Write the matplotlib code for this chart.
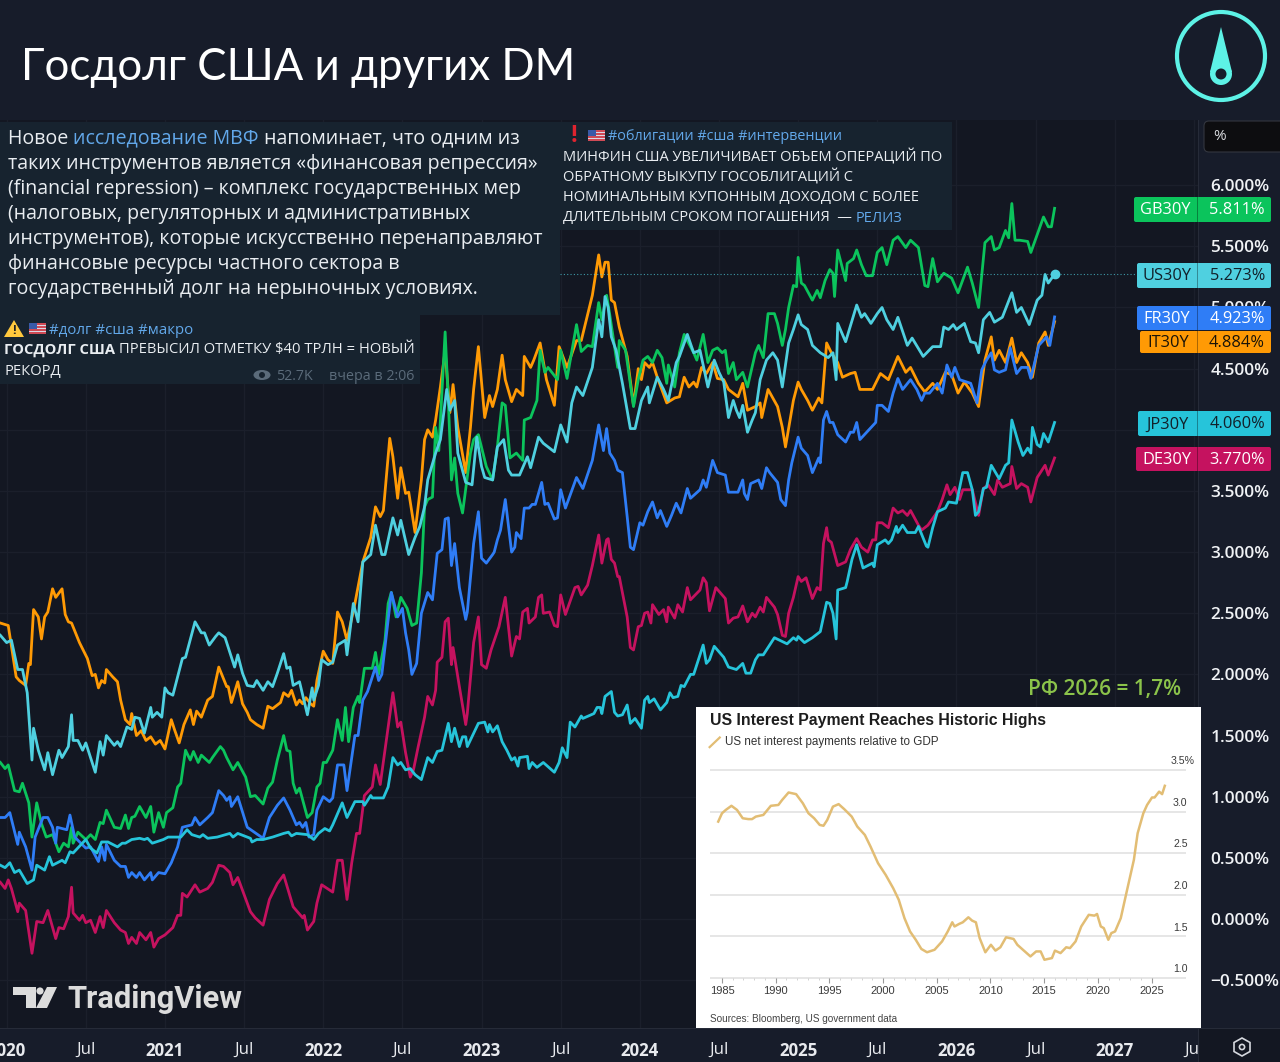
# -*- coding: utf-8 -*-
# 30Y government bond yields with a Telegram text overlay and a Bloomberg inset
import matplotlib
matplotlib.use("Agg")
import matplotlib.pyplot as plt
from matplotlib.patches import Rectangle, FancyBboxPatch, Circle, Polygon, Ellipse

plt.rcParams['font.family'] = ['Open Sans', 'DejaVu Sans']

it_t = [2019.96,2020.01,2020.06,2020.08,2020.12,2020.14,2020.15,2020.17,2020.20,2020.22,2020.24,2020.26,2020.29,2020.31,2020.35,2020.37,2020.39,2020.41,2020.46,2020.51,2020.54,2020.56,2020.58,2020.60,2020.62,2020.63,2020.67,2020.70,2020.72,2020.75,2020.78,2020.79,2020.82,2020.85,2020.88,2020.91,2020.94,2020.97,2021.00,2021.04,2021.06,2021.09,2021.12,2021.16,2021.18,2021.20,2021.23,2021.27,2021.30,2021.34,2021.39,2021.40,2021.42,2021.46,2021.49,2021.52,2021.54,2021.58,2021.62,2021.65,2021.68,2021.73,2021.75,2021.78,2021.80,2021.83,2021.85,2021.87,2021.89,2021.92,2021.94,2021.96,2022.00,2022.03,2022.06,2022.09,2022.12,2022.15,2022.20,2022.25,2022.30,2022.33,2022.36,2022.38,2022.42,2022.44,2022.47,2022.49,2022.52,2022.54,2022.58,2022.62,2022.64,2022.66,2022.69,2022.71,2022.74,2022.77,2022.80,2022.82,2022.85,2022.90,2022.93,2022.95,2022.98,2023.02,2023.05,2023.07,2023.10,2023.13,2023.15,2023.19,2023.22,2023.26,2023.27,2023.31,2023.33,2023.37,2023.41,2023.46,2023.49,2023.54,2023.60,2023.63,2023.70,2023.74,2023.76,2023.78,2023.80,2023.82,2023.84,2023.87,2023.92,2023.96,2023.99,2024.01,2024.03,2024.06,2024.08,2024.11,2024.17,2024.22,2024.25,2024.28,2024.31,2024.34,2024.36,2024.39,2024.42,2024.46,2024.49,2024.53,2024.56,2024.62,2024.65,2024.68,2024.73,2024.76,2024.77,2024.81,2024.87,2024.90,2024.92,2024.97,2025.00,2025.02,2025.06,2025.09,2025.13,2025.15,2025.18,2025.21,2025.25,2025.28,2025.33,2025.36,2025.39,2025.47,2025.52,2025.57,2025.63,2025.68,2025.71,2025.76,2025.80,2025.85,2025.88,2025.93,2025.97,2026.01,2026.05,2026.10,2026.14,2026.18,2026.22,2026.24,2026.27,2026.31,2026.35,2026.38,2026.41,2026.45,2026.48,2026.52,2026.56,2026.58,2026.62]
it_v = [2.42,2.40,1.98,1.95,1.91,2.09,2.08,2.53,2.47,2.29,2.47,2.51,2.70,2.63,2.70,2.49,2.43,2.42,2.26,2.13,1.99,2.00,1.89,1.95,1.93,2.04,1.98,1.94,1.79,1.63,1.59,1.68,1.50,1.54,1.46,1.49,1.43,1.46,1.39,1.63,1.55,1.44,1.59,1.71,1.59,1.70,1.65,1.79,1.82,2.06,1.90,1.90,1.77,1.94,1.76,1.69,1.63,1.59,1.56,1.74,1.72,1.77,1.85,1.82,1.87,1.75,1.79,1.76,1.81,1.76,1.74,1.95,2.19,2.12,2.09,2.51,2.43,2.28,2.58,2.92,3.12,3.37,3.29,3.34,3.93,3.78,3.44,3.69,3.48,3.49,3.16,3.59,3.92,4.00,3.94,4.08,4.35,4.65,4.14,4.37,4.02,3.65,4.02,4.33,4.68,4.10,4.28,4.19,4.33,4.61,4.41,4.23,4.33,4.28,4.60,4.51,4.57,4.71,4.41,4.20,4.68,4.51,4.73,4.73,5.10,5.43,5.25,5.37,5.37,5.06,5.04,4.84,4.60,4.20,4.50,4.41,4.55,4.51,4.55,4.43,4.22,4.26,4.27,4.43,4.35,4.39,4.35,4.51,4.46,4.55,4.42,4.41,4.33,4.27,4.38,4.16,4.19,4.22,4.10,4.33,4.19,4.02,3.86,4.24,4.39,4.33,4.24,4.16,4.26,4.22,4.71,4.63,4.55,4.43,4.46,4.47,4.33,4.33,4.46,4.41,4.60,4.47,4.51,4.38,4.31,4.38,4.33,4.47,4.45,4.30,4.39,4.30,4.19,4.57,4.76,4.57,4.65,4.55,4.75,4.55,4.63,4.55,4.43,4.71,4.80,4.69,4.884]

us_t = [2019.96,2020.00,2020.03,2020.07,2020.10,2020.13,2020.16,2020.17,2020.20,2020.24,2020.26,2020.29,2020.33,2020.35,2020.39,2020.41,2020.42,2020.45,2020.48,2020.50,2020.56,2020.59,2020.61,2020.63,2020.68,2020.70,2020.72,2020.76,2020.79,2020.81,2020.84,2020.87,2020.91,2020.92,2020.95,2020.98,2021.00,2021.02,2021.05,2021.08,2021.11,2021.13,2021.19,2021.23,2021.25,2021.28,2021.32,2021.34,2021.38,2021.42,2021.44,2021.46,2021.49,2021.52,2021.56,2021.58,2021.62,2021.65,2021.68,2021.71,2021.75,2021.77,2021.79,2021.81,2021.85,2021.90,2021.93,2021.94,2021.97,2021.99,2022.03,2022.06,2022.09,2022.14,2022.15,2022.19,2022.22,2022.25,2022.30,2022.33,2022.37,2022.39,2022.44,2022.47,2022.49,2022.54,2022.58,2022.61,2022.64,2022.66,2022.71,2022.74,2022.78,2022.80,2022.83,2022.85,2022.90,2022.94,2022.97,2023.00,2023.02,2023.07,2023.10,2023.14,2023.17,2023.19,2023.24,2023.29,2023.31,2023.36,2023.39,2023.46,2023.50,2023.54,2023.57,2023.60,2023.64,2023.70,2023.74,2023.76,2023.78,2023.80,2023.82,2023.85,2023.89,2023.94,2023.97,2024.01,2024.05,2024.06,2024.11,2024.15,2024.18,2024.23,2024.25,2024.30,2024.34,2024.38,2024.43,2024.47,2024.50,2024.53,2024.56,2024.59,2024.61,2024.63,2024.65,2024.68,2024.71,2024.73,2024.76,2024.80,2024.84,2024.87,2024.90,2024.94,2024.97,2025.00,2025.02,2025.06,2025.09,2025.14,2025.19,2025.22,2025.24,2025.25,2025.30,2025.37,2025.40,2025.42,2025.46,2025.50,2025.53,2025.56,2025.60,2025.63,2025.69,2025.72,2025.79,2025.85,2025.90,2025.92,2025.95,2025.98,2026.00,2026.05,2026.09,2026.12,2026.14,2026.17,2026.21,2026.24,2026.29,2026.35,2026.38,2026.41,2026.46,2026.51,2026.54,2026.56,2026.58,2026.62]
us_v = [2.32,2.26,2.28,2.04,2.04,1.85,1.30,1.56,1.38,1.22,1.36,1.18,1.38,1.32,1.41,1.67,1.46,1.46,1.38,1.44,1.20,1.45,1.34,1.50,1.42,1.45,1.41,1.57,1.55,1.65,1.64,1.52,1.73,1.65,1.69,1.65,1.89,1.85,1.83,1.98,2.13,2.14,2.43,2.34,2.34,2.24,2.31,2.34,2.30,2.14,2.06,2.16,2.01,1.91,1.90,1.95,1.87,1.94,1.90,2.01,2.17,2.05,2.06,1.91,1.94,1.67,1.89,1.79,1.91,2.12,2.08,2.10,2.24,2.28,2.16,2.58,2.43,2.92,2.98,3.22,2.98,2.98,3.28,3.14,3.26,2.98,3.12,3.21,3.37,3.59,3.81,3.92,4.33,4.16,4.24,3.81,3.57,3.55,3.94,3.70,3.61,3.59,3.86,3.92,3.67,3.63,3.63,3.78,3.69,3.94,3.89,3.82,4.04,3.90,4.22,4.35,4.28,4.51,4.90,4.76,5.09,5.00,4.76,4.65,4.38,4.01,4.01,4.24,4.35,4.22,4.43,4.33,4.24,4.55,4.60,4.78,4.63,4.65,4.35,4.57,4.47,4.39,4.10,4.24,4.16,4.10,4.20,3.98,4.08,4.14,4.41,4.57,4.63,4.57,4.35,4.71,4.82,4.94,4.86,4.82,4.69,4.63,4.59,4.63,4.41,4.87,4.72,5.02,4.92,4.95,4.87,4.95,5.00,4.90,4.82,4.92,4.69,4.75,4.60,4.68,4.68,4.84,4.82,4.86,4.82,4.87,4.72,4.71,4.63,4.90,4.96,4.88,4.92,5.12,4.96,5.00,4.86,5.06,5.10,5.27,5.20,5.273]

gb_t = [2019.96,2019.99,2020.01,2020.05,2020.08,2020.10,2020.13,2020.14,2020.16,2020.19,2020.22,2020.25,2020.29,2020.33,2020.36,2020.39,2020.41,2020.42,2020.45,2020.50,2020.53,2020.56,2020.59,2020.61,2020.63,2020.68,2020.72,2020.75,2020.77,2020.79,2020.81,2020.84,2020.88,2020.91,2020.93,2020.96,2020.99,2021.01,2021.05,2021.08,2021.10,2021.13,2021.16,2021.18,2021.21,2021.23,2021.28,2021.30,2021.35,2021.37,2021.39,2021.43,2021.46,2021.51,2021.54,2021.57,2021.62,2021.65,2021.68,2021.71,2021.75,2021.77,2021.79,2021.81,2021.83,2021.85,2021.90,2021.93,2021.96,2021.98,2022.00,2022.02,2022.06,2022.09,2022.12,2022.14,2022.16,2022.19,2022.22,2022.23,2022.26,2022.31,2022.33,2022.35,2022.39,2022.41,2022.43,2022.46,2022.49,2022.53,2022.56,2022.59,2022.62,2022.64,2022.66,2022.69,2022.71,2022.73,2022.77,2022.79,2022.81,2022.83,2022.85,2022.88,2022.93,2022.95,2022.98,2023.03,2023.07,2023.10,2023.13,2023.15,2023.18,2023.22,2023.26,2023.27,2023.31,2023.35,2023.37,2023.40,2023.42,2023.48,2023.50,2023.54,2023.60,2023.63,2023.67,2023.70,2023.74,2023.76,2023.79,2023.81,2023.86,2023.87,2023.91,2023.96,2023.99,2024.02,2024.05,2024.08,2024.11,2024.14,2024.17,2024.18,2024.22,2024.25,2024.28,2024.32,2024.34,2024.36,2024.40,2024.43,2024.46,2024.49,2024.52,2024.54,2024.56,2024.59,2024.61,2024.65,2024.68,2024.73,2024.75,2024.78,2024.81,2024.85,2024.87,2024.90,2024.92,2024.94,2024.97,2024.99,2025.00,2025.02,2025.04,2025.09,2025.12,2025.14,2025.17,2025.20,2025.22,2025.23,2025.25,2025.30,2025.31,2025.35,2025.37,2025.40,2025.43,2025.47,2025.50,2025.53,2025.56,2025.60,2025.63,2025.68,2025.71,2025.76,2025.80,2025.82,2025.85,2025.88,2025.92,2025.97,2026.01,2026.07,2026.10,2026.14,2026.18,2026.22,2026.24,2026.27,2026.31,2026.33,2026.35,2026.37,2026.40,2026.45,2026.47,2026.55,2026.58,2026.60,2026.62]
gb_v = [1.28,1.23,1.26,1.05,1.04,1.11,0.99,0.95,0.67,0.95,0.78,0.67,0.69,0.55,0.62,0.59,0.75,0.62,0.71,0.65,0.69,0.65,0.79,0.78,0.89,0.75,0.74,0.85,0.74,0.83,0.84,0.92,0.83,0.92,0.71,0.87,0.75,0.87,0.91,1.08,1.11,1.38,1.30,1.37,1.28,1.34,1.28,1.32,1.41,1.38,1.32,1.22,1.28,1.16,1.00,1.01,0.94,1.07,1.12,1.30,1.50,1.38,1.37,1.11,1.03,1.07,0.83,0.87,1.08,1.11,1.28,1.28,1.38,1.63,1.46,1.73,1.45,1.73,1.82,1.77,2.05,2.05,2.18,2.00,2.28,2.58,2.67,2.47,2.63,2.54,2.40,2.42,2.83,3.37,3.43,3.45,4.02,3.83,4.80,4.24,3.59,3.77,3.48,3.32,3.81,3.92,3.96,3.70,3.59,3.86,4.22,4.20,3.77,3.81,3.75,4.08,4.10,4.24,4.65,4.47,4.51,4.41,4.65,4.42,4.86,4.64,4.69,4.68,5.04,4.90,5.10,4.94,4.51,4.73,4.65,4.19,4.41,4.57,4.60,4.55,4.65,4.59,4.38,4.53,4.35,4.63,4.78,4.68,4.63,4.57,4.78,4.55,4.65,4.67,4.63,4.65,4.46,4.55,4.41,4.47,4.35,4.63,4.69,4.59,4.95,4.95,4.87,4.69,4.82,5.00,5.18,5.17,5.41,5.20,5.18,5.06,5.14,5.08,5.22,5.31,5.28,5.09,5.47,5.22,5.36,5.40,5.47,5.35,5.26,5.26,5.45,5.49,5.35,5.55,5.58,5.49,5.55,5.49,5.18,5.17,5.40,5.21,5.28,5.24,5.12,5.33,5.20,5.00,5.53,5.58,5.47,5.49,5.63,5.57,5.85,5.55,5.55,5.54,5.45,5.74,5.66,5.66,5.811]

fr_t = [2019.96,2019.99,2020.02,2020.07,2020.08,2020.12,2020.16,2020.18,2020.23,2020.26,2020.29,2020.31,2020.32,2020.38,2020.40,2020.43,2020.50,2020.53,2020.58,2020.60,2020.62,2020.63,2020.68,2020.72,2020.75,2020.77,2020.79,2020.82,2020.84,2020.87,2020.91,2020.92,2020.96,2021.00,2021.04,2021.08,2021.11,2021.17,2021.19,2021.22,2021.27,2021.30,2021.34,2021.37,2021.39,2021.41,2021.42,2021.46,2021.52,2021.62,2021.66,2021.71,2021.75,2021.79,2021.83,2021.85,2021.87,2021.89,2021.91,2021.94,2021.96,2022.00,2022.04,2022.06,2022.09,2022.13,2022.15,2022.18,2022.20,2022.22,2022.25,2022.28,2022.33,2022.35,2022.37,2022.43,2022.47,2022.50,2022.52,2022.54,2022.56,2022.59,2022.62,2022.66,2022.69,2022.72,2022.75,2022.77,2022.79,2022.81,2022.83,2022.86,2022.90,2022.91,2022.95,2022.98,2023.00,2023.03,2023.07,2023.08,2023.10,2023.12,2023.15,2023.19,2023.21,2023.22,2023.25,2023.27,2023.30,2023.32,2023.34,2023.38,2023.40,2023.42,2023.46,2023.48,2023.50,2023.53,2023.60,2023.64,2023.70,2023.74,2023.77,2023.79,2023.81,2023.84,2023.86,2023.89,2023.92,2023.94,2023.96,2024.00,2024.02,2024.05,2024.08,2024.11,2024.13,2024.17,2024.20,2024.23,2024.26,2024.30,2024.32,2024.38,2024.40,2024.42,2024.46,2024.49,2024.54,2024.56,2024.62,2024.65,2024.66,2024.68,2024.70,2024.75,2024.77,2024.80,2024.82,2024.87,2024.89,2024.92,2024.94,2024.96,2025.00,2025.02,2025.06,2025.09,2025.13,2025.14,2025.16,2025.18,2025.20,2025.22,2025.25,2025.30,2025.33,2025.35,2025.37,2025.39,2025.44,2025.49,2025.50,2025.53,2025.57,2025.60,2025.63,2025.66,2025.71,2025.75,2025.78,2025.80,2025.83,2025.88,2025.91,2025.94,2025.97,2025.99,2026.02,2026.09,2026.13,2026.16,2026.19,2026.22,2026.24,2026.27,2026.31,2026.34,2026.38,2026.41,2026.45,2026.47,2026.52,2026.57,2026.59,2026.62]
fr_v = [0.83,0.83,0.87,0.61,0.71,0.59,0.40,0.67,0.83,0.83,0.75,0.62,0.75,0.73,0.85,0.67,0.58,0.59,0.47,0.59,0.48,0.61,0.48,0.43,0.43,0.34,0.38,0.34,0.38,0.32,0.38,0.32,0.38,0.37,0.46,0.59,0.75,0.77,0.83,0.77,0.83,0.87,1.05,1.01,0.97,1.00,0.92,1.00,0.75,0.66,0.83,0.93,0.99,0.89,0.77,0.79,0.75,0.79,0.67,0.69,0.89,1.00,0.96,0.99,1.26,1.26,1.05,1.32,1.50,1.50,1.79,1.86,2.06,1.95,2.00,2.67,2.47,2.54,2.34,2.20,2.00,2.09,2.50,2.67,2.61,2.99,3.02,3.27,3.28,2.89,3.07,2.71,2.45,2.51,3.07,3.33,2.95,2.91,2.98,3.00,3.10,3.18,3.43,3.00,3.04,3.16,3.11,3.36,3.36,3.39,3.39,3.57,3.39,3.40,3.27,3.28,3.51,3.36,3.61,3.52,3.75,4.04,3.83,4.01,3.81,3.75,3.67,3.65,3.29,3.04,3.02,3.24,3.22,3.33,3.41,3.28,3.34,3.21,3.30,3.40,3.32,3.52,3.44,3.51,3.59,3.53,3.75,3.65,3.63,3.49,3.49,3.59,3.48,3.43,3.56,3.59,3.52,3.69,3.65,3.57,3.43,3.38,3.59,3.73,3.94,3.85,3.79,3.65,3.77,3.73,4.08,4.15,4.06,4.06,3.96,3.90,3.98,3.98,4.06,3.92,3.99,4.06,4.20,4.20,4.15,4.30,4.42,4.33,4.41,4.33,4.24,4.30,4.30,4.38,4.30,4.53,4.43,4.51,4.41,4.38,4.22,4.49,4.57,4.63,4.49,4.47,4.49,4.67,4.46,4.51,4.51,4.42,4.69,4.76,4.69,4.923]

de_t = [2019.96,2019.99,2020.01,2020.03,2020.07,2020.08,2020.12,2020.16,2020.19,2020.23,2020.26,2020.29,2020.31,2020.33,2020.36,2020.39,2020.41,2020.42,2020.46,2020.48,2020.50,2020.53,2020.56,2020.59,2020.61,2020.63,2020.68,2020.72,2020.75,2020.77,2020.79,2020.82,2020.84,2020.88,2020.91,2020.93,2020.96,2021.00,2021.05,2021.08,2021.10,2021.11,2021.14,2021.19,2021.22,2021.27,2021.30,2021.34,2021.37,2021.41,2021.43,2021.46,2021.54,2021.57,2021.62,2021.66,2021.71,2021.75,2021.81,2021.87,2021.88,2021.90,2021.94,2021.96,2021.99,2022.06,2022.09,2022.12,2022.15,2022.18,2022.21,2022.23,2022.26,2022.31,2022.33,2022.36,2022.44,2022.47,2022.49,2022.52,2022.55,2022.57,2022.60,2022.64,2022.66,2022.69,2022.71,2022.72,2022.75,2022.77,2022.79,2022.81,2022.82,2022.86,2022.90,2022.91,2022.95,2022.98,2023.00,2023.03,2023.06,2023.11,2023.15,2023.19,2023.22,2023.24,2023.26,2023.29,2023.30,2023.34,2023.36,2023.38,2023.39,2023.43,2023.46,2023.48,2023.50,2023.53,2023.59,2023.61,2023.63,2023.67,2023.70,2023.74,2023.76,2023.79,2023.80,2023.82,2023.84,2023.86,2023.87,2023.92,2023.94,2023.96,2023.99,2024.01,2024.03,2024.05,2024.07,2024.08,2024.12,2024.15,2024.17,2024.18,2024.22,2024.24,2024.27,2024.30,2024.32,2024.38,2024.40,2024.42,2024.44,2024.48,2024.54,2024.56,2024.59,2024.62,2024.65,2024.68,2024.71,2024.73,2024.76,2024.78,2024.80,2024.85,2024.87,2024.90,2024.92,2024.94,2024.97,2025.00,2025.02,2025.05,2025.09,2025.12,2025.14,2025.16,2025.18,2025.19,2025.21,2025.25,2025.30,2025.33,2025.37,2025.40,2025.44,2025.47,2025.49,2025.50,2025.53,2025.57,2025.60,2025.63,2025.66,2025.69,2025.71,2025.76,2025.78,2025.82,2025.88,2025.91,2025.94,2025.96,2025.99,2026.02,2026.04,2026.10,2026.14,2026.17,2026.20,2026.24,2026.26,2026.29,2026.34,2026.35,2026.38,2026.41,2026.45,2026.47,2026.51,2026.56,2026.58,2026.62]
de_v = [0.30,0.25,0.32,0.25,0.06,0.13,0.07,-0.28,-0.02,-0.03,0.07,-0.07,-0.16,-0.07,-0.08,0.02,0.26,0.05,-0.01,0.03,-0.03,-0.01,-0.11,0.02,-0.07,0.07,-0.03,-0.09,-0.11,-0.20,-0.15,-0.20,-0.11,-0.17,-0.11,-0.23,-0.16,-0.13,-0.07,0.03,0.03,0.21,0.18,0.28,0.22,0.25,0.30,0.44,0.43,0.38,0.28,0.34,0.06,0.01,-0.05,0.16,0.29,0.36,0.10,0.01,0.03,-0.09,-0.02,0.13,0.28,0.22,0.48,0.48,0.16,0.46,0.70,0.70,1.01,1.08,1.26,1.10,1.85,1.57,1.61,1.36,1.16,1.22,1.41,1.65,1.82,1.75,1.87,2.10,2.14,2.43,2.46,2.08,2.22,1.90,1.59,1.68,2.26,2.47,2.08,2.05,2.20,2.39,2.63,2.15,2.31,2.29,2.51,2.54,2.42,2.47,2.63,2.65,2.50,2.51,2.40,2.39,2.65,2.49,2.71,2.72,2.65,2.73,2.89,3.14,2.91,3.10,3.11,2.94,2.91,2.80,2.80,2.47,2.22,2.20,2.39,2.40,2.50,2.51,2.42,2.57,2.49,2.53,2.43,2.55,2.46,2.57,2.51,2.71,2.61,2.69,2.79,2.75,2.52,2.71,2.62,2.42,2.46,2.47,2.56,2.43,2.50,2.47,2.55,2.51,2.63,2.55,2.49,2.32,2.31,2.50,2.63,2.80,2.76,2.79,2.62,2.71,2.69,3.07,3.20,3.10,3.08,2.89,2.92,3.02,3.11,3.04,3.00,3.10,3.10,3.24,3.24,3.20,3.36,3.32,3.34,3.30,3.34,3.22,3.18,3.22,3.33,3.43,3.55,3.47,3.53,3.43,3.51,3.51,3.30,3.52,3.55,3.47,3.59,3.53,3.56,3.70,3.52,3.56,3.53,3.41,3.61,3.71,3.63,3.770]

jp_t = [2019.96,2019.99,2020.02,2020.05,2020.08,2020.13,2020.17,2020.19,2020.24,2020.27,2020.29,2020.35,2020.37,2020.40,2020.42,2020.50,2020.53,2020.57,2020.60,2020.64,2020.70,2020.73,2020.75,2020.79,2020.84,2020.87,2020.89,2020.92,2020.99,2021.02,2021.10,2021.14,2021.17,2021.22,2021.24,2021.27,2021.33,2021.41,2021.43,2021.46,2021.54,2021.55,2021.58,2021.62,2021.68,2021.75,2021.78,2021.80,2021.83,2021.90,2021.94,2021.97,2022.01,2022.04,2022.06,2022.12,2022.15,2022.20,2022.25,2022.26,2022.30,2022.31,2022.38,2022.41,2022.44,2022.47,2022.49,2022.52,2022.55,2022.58,2022.62,2022.66,2022.69,2022.72,2022.75,2022.79,2022.81,2022.83,2022.86,2022.88,2022.90,2022.91,2022.98,2023.02,2023.04,2023.05,2023.07,2023.10,2023.13,2023.16,2023.19,2023.21,2023.23,2023.24,2023.29,2023.30,2023.32,2023.35,2023.39,2023.46,2023.49,2023.51,2023.54,2023.56,2023.59,2023.63,2023.64,2023.71,2023.73,2023.75,2023.76,2023.78,2023.82,2023.84,2023.86,2023.89,2023.92,2023.94,2023.97,2024.01,2024.03,2024.05,2024.06,2024.09,2024.13,2024.17,2024.19,2024.21,2024.24,2024.26,2024.28,2024.32,2024.34,2024.38,2024.40,2024.42,2024.44,2024.47,2024.53,2024.56,2024.61,2024.65,2024.67,2024.70,2024.73,2024.75,2024.78,2024.85,2024.93,2024.97,2024.99,2025.00,2025.04,2025.09,2025.14,2025.18,2025.20,2025.22,2025.24,2025.25,2025.30,2025.31,2025.34,2025.37,2025.41,2025.47,2025.48,2025.50,2025.55,2025.57,2025.59,2025.62,2025.63,2025.66,2025.69,2025.74,2025.76,2025.81,2025.82,2025.85,2025.88,2025.93,2025.95,2026.00,2026.04,2026.07,2026.10,2026.12,2026.14,2026.17,2026.19,2026.22,2026.27,2026.31,2026.33,2026.35,2026.39,2026.42,2026.45,2026.47,2026.48,2026.51,2026.53,2026.55,2026.58,2026.62]
jp_v = [0.44,0.42,0.46,0.38,0.40,0.29,0.32,0.44,0.40,0.51,0.44,0.48,0.46,0.55,0.54,0.65,0.58,0.54,0.63,0.63,0.59,0.62,0.62,0.65,0.66,0.65,0.66,0.62,0.65,0.67,0.67,0.73,0.69,0.67,0.69,0.66,0.67,0.70,0.67,0.70,0.66,0.63,0.65,0.65,0.67,0.70,0.71,0.68,0.70,0.69,0.65,0.70,0.74,0.72,0.77,0.95,0.83,0.96,0.96,0.93,1.01,0.99,0.99,1.08,1.32,1.26,1.28,1.22,1.23,1.18,1.14,1.32,1.28,1.37,1.38,1.60,1.45,1.56,1.41,1.49,1.49,1.41,1.60,1.61,1.53,1.59,1.53,1.58,1.45,1.38,1.30,1.32,1.25,1.32,1.33,1.23,1.28,1.24,1.28,1.20,1.28,1.40,1.32,1.61,1.57,1.66,1.64,1.68,1.73,1.73,1.68,1.82,1.86,1.69,1.66,1.67,1.75,1.60,1.64,1.56,1.79,1.82,1.77,1.80,1.71,1.77,1.85,1.81,1.82,1.91,1.90,2.00,2.00,2.16,2.24,2.09,2.12,2.23,2.14,2.06,2.04,2.09,2.01,2.01,2.12,2.16,2.16,2.30,2.25,2.30,2.28,2.31,2.26,2.30,2.35,2.59,2.58,2.50,2.29,2.69,2.71,2.76,2.94,3.06,2.87,2.91,2.88,3.06,3.10,3.07,3.10,3.21,3.16,3.22,3.16,3.16,3.21,3.05,3.04,3.20,3.33,3.36,3.41,3.40,3.65,3.65,3.51,3.30,3.33,3.52,3.53,3.71,3.60,3.71,3.73,4.08,3.90,3.79,3.85,3.81,4.02,3.88,3.86,3.97,3.90,4.060]

series_order = ['DE30Y', 'IT30Y', 'GB30Y', 'FR30Y', 'JP30Y', 'US30Y']
series_t = {'DE30Y': de_t, 'IT30Y': it_t, 'GB30Y': gb_t, 'FR30Y': fr_t, 'JP30Y': jp_t, 'US30Y': us_t}
series_v = {'DE30Y': de_v, 'IT30Y': it_v, 'GB30Y': gb_v, 'FR30Y': fr_v, 'JP30Y': jp_v, 'US30Y': us_v}
colors = {'GB30Y': '#0bc45c', 'US30Y': '#4fd0e0', 'FR30Y': '#2f7df6', 'IT30Y': '#ff9a05',
          'JP30Y': '#26c4da', 'DE30Y': '#c5125f'}

tag_names = ['GB30Y', 'US30Y', 'FR30Y', 'IT30Y', 'JP30Y', 'DE30Y']
tag_values = ['5.811%', '5.273%', '4.923%', '4.884%', '4.060%', '3.770%']

y_ticks = [6, 5.5, 5, 4.5, 4, 3.5, 3, 2.5, 2, 1.5, 1, 0.5, 0, -0.5]
x_ticks = [2020, 2020.5, 2021, 2021.5, 2022, 2022.5, 2023, 2023.5, 2024, 2024.5, 2025, 2025.5, 2026, 2026.5, 2027, 2027.5]
x_labels = ['2020', 'Jul', '2021', 'Jul', '2022', 'Jul', '2023', 'Jul', '2024', 'Jul', '2025', 'Jul', '2026', 'Jul', '2027', 'Jul']

# Bloomberg inset
gdp_t = [1984.65,1985.0,1985.35,1985.88,1986.4,1986.93,1987.45,1987.8,1988.15,1988.85,1989.55,1990.25,1990.6,1991.2,1991.9,1992.53,1993.05,1993.58,1994.1,1994.45,1994.8,1995.33,1995.86,1996.38,1997.08,1997.6,1998.3,1998.83,1999.53,2000.24,2000.94,2001.46,2001.99,2002.51,2003.04,2003.56,2004.09,2004.79,2005.49,2006.02,2006.44,2006.65,2007.07,2007.42,2007.94,2008.29,2008.64,2008.99,2009.52,2010.04,2010.46,2010.92,2011.45,2012.15,2012.5,2013.02,2013.72,2014.25,2014.67,2015.02,2015.72,2016.0,2016.52,2017.05,2017.4,2017.92,2018.45,2019.15,2019.68,2019.92,2020.27,2020.55,2020.97,2021.25,2021.6,2022.13,2022.65,2023.35,2023.7,2024.23,2024.58,2025.04,2025.28,2025.7,2025.98,2026.23]
gdp_v = [2.88,2.98,3.02,3.07,3.02,2.92,2.91,2.91,2.94,2.96,3.07,3.08,3.14,3.23,3.21,3.10,2.98,2.92,2.84,2.83,2.90,3.06,3.09,3.03,2.94,2.82,2.72,2.58,2.38,2.24,2.08,1.94,1.72,1.56,1.46,1.35,1.31,1.34,1.44,1.56,1.67,1.62,1.65,1.67,1.73,1.69,1.67,1.48,1.31,1.40,1.33,1.37,1.49,1.47,1.40,1.34,1.26,1.32,1.32,1.22,1.24,1.33,1.30,1.37,1.36,1.44,1.62,1.76,1.75,1.77,1.62,1.60,1.46,1.54,1.56,1.72,2.02,2.42,2.74,2.98,3.08,3.17,3.17,3.24,3.21,3.31]
gdp_ticks = [3.5, 3.0, 2.5, 2.0, 1.5, 1.0]
gdp_labels = ['3.5%', '3.0', '2.5', '2.0', '1.5', '1.0']
gdp_years = [1985, 1990, 1995, 2000, 2005, 2010, 2015, 2020, 2025]

W, H = 1280, 1062
BG = '#131722'
TOP = '#171c2a'
PANEL = '#17232f'
GRID = '#1b1f2b'
TEXT = '#e9edf1'
LINK = '#62a8ea'

fig = plt.figure(figsize=(W / 100, H / 100), dpi=100, facecolor=TOP)


def px_rect(x0, y0, x1, y1):
    return [x0 / W, 1 - y1 / H, (x1 - x0) / W, (y1 - y0) / H]


# main chart
ax = fig.add_axes(px_rect(0, 120, 1198, 1028), facecolor=BG)
ax.set_xlim(2019.958, 2027.526)
ax.set_ylim(-0.891, 6.533)
ax.grid(True, color=GRID, lw=0.9)
ax.set_axisbelow(True)
for s in ax.spines.values():
    s.set_visible(False)
for name in series_order:
    ax.plot(series_t[name], series_v[name], color=colors[name], lw=2.0, solid_joinstyle='round')
ax.axhline(5.273, color='#4fd0e0', lw=0.8, ls=(0, (1, 2)), alpha=0.7)
ax.plot([2026.62], [5.273], 'o', color='#4fd0e0', ms=6)

ax.yaxis.tick_right()
ax.set_yticks(y_ticks, ['%.3f%%' % v if v >= 0 else '\u2212%.3f%%' % -v for v in y_ticks])
ax.tick_params(axis='y', length=0, pad=9, labelsize=12.4, labelcolor='#f0f2f5')
for lab in ax.get_yticklabels():
    lab.set_fontweight('semibold')
ax.set_xticks(x_ticks, x_labels)
ax.tick_params(axis='x', length=0, pad=10, labelsize=12.2, labelcolor='#e8eaee')
for lab in ax.get_xticklabels():
    if lab.get_text() != 'Jul':
        lab.set_fontweight('bold')

# overlay in picture pixels for everything that is not data
ov = fig.add_axes([0, 0, 1, 1], facecolor='none', zorder=5)
ov.set_xlim(0, W)
ov.set_ylim(H, 0)
ov.axis('off')
fig.canvas.draw()
renderer = fig.canvas.get_renderer()


def rect(x0, y0, x1, y1, color, **kw):
    ov.add_patch(Rectangle((x0, y0), x1 - x0, y1 - y0, fc=color, ec='none', **kw))


def runs(x, y, parts, size):
    # parts: (text, colour, weight), drawn one after the other on a line
    for txt, col, wt in parts:
        t = ov.text(x, y, txt, color=col, fontsize=size, fontweight=wt, va='center', ha='left')
        x = t.get_window_extent(renderer).x1


def flag(x, y):
    rect(x, y, x + 17, y + 11, '#d9d9e6')
    for k in range(0, 4):
        rect(x, y + k * 3, x + 17, y + k * 3 + 1.5, '#cf4a55')
    rect(x, y, x + 8, y + 6, '#3a5aa8')


# strips outside the plot
rect(0, 1028, W, 1029, '#262b38')
rect(1198, 120, 1199, 1062, '#262b38')
rect(1199, 1029, W, H, BG)
ov.add_patch(FancyBboxPatch((1204, 121), 90, 31, boxstyle='round,pad=0,rounding_size=5',
                            fc='#0d0d10', ec='#33363f', lw=0.8))
ov.text(1213, 137, '%', color='#d8dade', fontsize=11, va='center')
ov.add_patch(Polygon([(1242, 1038), (1250, 1042.5), (1250, 1051.5), (1242, 1056), (1234, 1051.5), (1234, 1042.5)],
                     fc='none', ec='#d5d8de', lw=1.2))
ov.add_patch(Circle((1242, 1047), 2.6, fc='none', ec='#d5d8de', lw=1.2))

# title and round logo
ov.text(21, 67, 'Госдолг США и других DM', color='white', fontsize=31.5, family=['Lato', 'DejaVu Sans'],
        fontweight='normal', va='center', ha='left')
ov.add_patch(Circle((1221, 56), 44, fc='none', ec='#5df2e6', lw=3))
ov.add_patch(Polygon([(1221, 27), (1232, 72), (1210, 72)], fc='#5df2e6', ec='none'))
ov.add_patch(Circle((1221, 74), 11, fc='#5df2e6', ec='none'))
ov.add_patch(Circle((1221, 74), 5.5, fc=TOP, ec='none'))

# telegram text panels
rect(0, 122, 560, 315, PANEL)
rect(0, 315, 420, 384, PANEL)
rect(560, 122, 952, 230, PANEL)

runs(8, 138.5, [('Новое ', TEXT, 'normal'), ('исследование МВФ', LINK, 'normal'),
                (' напоминает, что одним из', TEXT, 'normal')], 14.1)
body = ['таких инструментов является «финансовая репрессия»',
        '(financial repression) – комплекс государственных мер',
        '(налоговых, регуляторных и административных',
        'инструментов), которые искусственно перенаправляют',
        'финансовые ресурсы частного сектора в',
        'государственный долг на нерыночных условиях.']
for k, line in enumerate(body):
    ov.text(8, 163.5 + k * 25.1, line, color=TEXT, fontsize=14.1, va='center', ha='left')

ov.add_patch(Polygon([(14, 320), (24, 337), (4, 337)], fc='#ffc83d', ec='none'))
ov.text(14, 331, '!', color='#222222', fontsize=9, fontweight='bold', ha='center', va='center')
flag(29, 323)
ov.text(49, 330, '#долг #сша #макро', color=LINK, fontsize=10.8, va='center', ha='left')
runs(4, 350, [('ГОСДОЛГ США', TEXT, 'bold'), (' ПРЕВЫСИЛ ОТМЕТКУ $40 ТРЛН = НОВЫЙ', TEXT, 'normal')], 10.6)
ov.text(4, 371, 'РЕКОРД', color=TEXT, fontsize=10.6, va='center', ha='left')
ov.add_patch(Ellipse((262, 375), 17, 10, fc='#5b6b7a', ec='none'))
ov.add_patch(Circle((262, 375), 3, fc=PANEL, ec='none'))
ov.text(276, 377, '52.7K', color='#5b6b7a', fontsize=10.3, va='center', ha='left')
ov.text(414, 377, 'вчера в 2:06', color='#5b6b7a', fontsize=10.3, va='center', ha='right')

ov.text(574, 136, '!', color='#e0242f', fontsize=17, fontweight='bold', ha='center', va='center')
flag(588, 130)
ov.text(608, 137, '#облигации #сша #интервенции', color=LINK, fontsize=10.4, va='center', ha='left')
for k, line in enumerate(['МИНФИН США УВЕЛИЧИВАЕТ ОБЪЕМ ОПЕРАЦИЙ ПО',
                          'ОБРАТНОМУ ВЫКУПУ ГОСОБЛИГАЦИЙ С',
                          'НОМИНАЛЬНЫМ КУПОННЫМ ДОХОДОМ С БОЛЕЕ']):
    ov.text(563, 157 + k * 20.4, line, color=TEXT, fontsize=10.5, va='center', ha='left')
runs(563, 218, [('ДЛИТЕЛЬНЫМ СРОКОМ ПОГАШЕНИЯ  — ', TEXT, 'normal'), ('РЕЛИЗ', LINK, 'normal')], 10.5)

# last value tags
tag_left = [1134, 1137, 1137, 1140, 1138, 1136]
tag_top = [197, 263, 306, 331, 411, 447]
tag_bottom = [222, 288, 330, 353, 436, 471]
tag_text = ['white', '#12202a', 'white', '#1a1408', '#12202a', 'white']
for k, name in enumerate(tag_names):
    ov.add_patch(FancyBboxPatch((tag_left[k], tag_top[k]), 1271 - tag_left[k], tag_bottom[k] - tag_top[k],
                                boxstyle='round,pad=0,rounding_size=2', fc=colors[name], ec='none'))
    rect(1196.5, tag_top[k], 1197.5, tag_bottom[k], '#00000055')
    mid = (tag_top[k] + tag_bottom[k]) / 2 + 1
    ov.text((tag_left[k] + 1197) / 2, mid, name, color=tag_text[k], fontsize=11.8, ha='center', va='center')
    ov.text(1265, mid, tag_values[k], color=tag_text[k], fontsize=11.8, ha='right', va='center')

ov.text(1181, 690, 'РФ 2026 = 1,7%', color='#8bc34a', fontsize=15, fontweight='semibold', ha='right', va='center')

# tradingview mark
ov.add_patch(Polygon([(13, 987), (36, 987), (36, 1008), (26, 1008), (26, 995), (13, 995)], fc='#dcdcdc', ec='none'))
ov.add_patch(Circle((40, 991), 3.6, fc='#dcdcdc', ec='none'))
ov.add_patch(Polygon([(47, 987), (57, 987), (47, 1008), (36, 1008)], fc='#dcdcdc', ec='none'))
ov.text(67, 999, 'TradingView', color='#dcdcdc', fontsize=22.2, fontweight='semibold', va='center', ha='left',
        family=['Roboto', 'DejaVu Sans'])

# inset picture of the interest payments chart
ins = fig.add_axes(px_rect(696, 707, 1201, 1028), facecolor='white', zorder=6)
ins.set_xlim(1982.58, 2029.6)
ins.set_ylim(0.40, 4.257)
for s in ins.spines.values():
    s.set_visible(False)
ins.set_xticks([])
ins.set_yticks([])
ins.hlines(gdp_ticks, 1983.88, 2028.2, color='#e2e2e2', lw=1.2, zorder=1)
ins.plot(gdp_t, gdp_v, color='#e2bd74', lw=1.8, zorder=3)
for v, lab in zip(gdp_ticks, gdp_labels):
    ins.text(2027.0 if lab != '3.5%' else 2026.8, v + 0.105, lab, color='#3a3a3a', fontsize=7.6,
             family=['Liberation Sans'], ha='left', va='center')
ins.vlines(range(1985, 2026), 0.98, 1.0, color='#cccccc', lw=0.6)
ins.vlines(gdp_years, 0.94, 1.0, color='#9a9a9a', lw=0.8)
for yr in gdp_years:
    ins.text(yr, 0.85, str(yr), color='#3a3a3a', fontsize=8, family=['Liberation Sans'], ha='center', va='center')
ins.text(0.027, 0.957, 'US Interest Payment Reaches Historic Highs', transform=ins.transAxes, color='#1d1d1d',
         fontsize=11.45, fontweight='bold', family=['Liberation Sans'], va='center', ha='left')
ins.plot([0.027, 0.047], [0.875, 0.905], transform=ins.transAxes, color='#e2bd74', lw=1.6)
ins.text(0.057, 0.89, 'US net interest payments relative to GDP', transform=ins.transAxes, color='#333333',
         fontsize=8.4, family=['Liberation Sans'], va='center', ha='left')
ins.text(0.027, 0.028, 'Sources: Bloomberg, US government data', transform=ins.transAxes, color='#444444',
         fontsize=7.2, family=['Liberation Sans'], va='center', ha='left')

fig.savefig('out.png', dpi=100, facecolor=TOP)
